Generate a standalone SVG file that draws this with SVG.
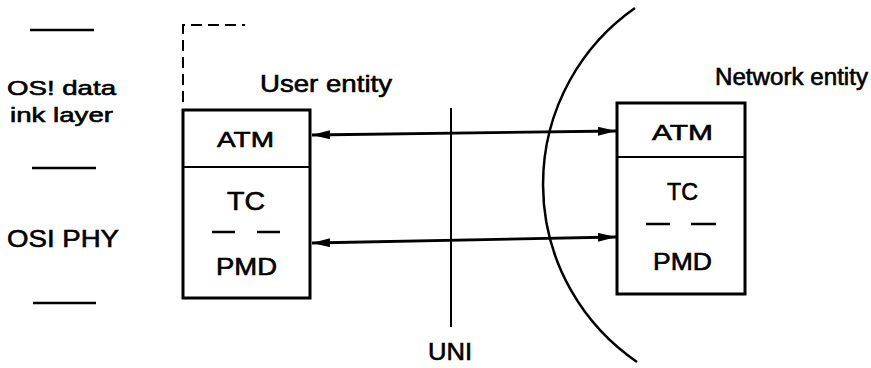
<svg xmlns="http://www.w3.org/2000/svg" width="871" height="368" viewBox="0 0 871 368">
<style>
text{font-family:"Liberation Sans",Arial,sans-serif;fill:#000;stroke:#000;stroke-width:0.6;}
.box{fill:none;stroke:#000;stroke-width:3;}
.ln{stroke:#000;stroke-width:2.5;fill:none;}
.thin{stroke:#000;stroke-width:2;fill:none;}
.arr{stroke:#000;stroke-width:2.8;fill:none;marker-start:url(#ah);marker-end:url(#ah);}
</style>
<defs>
<marker id="ah" viewBox="0 0 18 9" refX="18" refY="4.5" markerWidth="18" markerHeight="9" markerUnits="userSpaceOnUse" orient="auto-start-reverse">
<path d="M0,0 L18,4.5 L0,9 z" fill="#000"/>
</marker>
</defs>
<rect width="871" height="368" fill="#fff"/>
<g id="osi-labels">
<line class="ln" x1="30" y1="30" x2="94" y2="30"/>
<line class="ln" x1="32" y1="168" x2="96" y2="168"/>
<line class="ln" x1="33" y1="303" x2="96" y2="303"/>
<text x="7" y="95" font-size="21" textLength="109" lengthAdjust="spacingAndGlyphs">OS! data</text>
<text x="10" y="122" font-size="21" textLength="103" lengthAdjust="spacingAndGlyphs">ink layer</text>
<text x="7" y="247" font-size="24" textLength="112" lengthAdjust="spacingAndGlyphs">OSI PHY</text>
</g>
<g id="user-entity">
<path class="thin" d="M183,102 V25 H245" stroke-dasharray="11 6" stroke-width="2.6"/>
<text x="260" y="92" font-size="24" textLength="132" lengthAdjust="spacingAndGlyphs">User entity</text>
<rect class="box" x="183" y="110" width="127" height="188"/>
<line class="thin" x1="183" y1="167" x2="310" y2="167"/>
<text x="217" y="147" font-size="22" textLength="57" lengthAdjust="spacingAndGlyphs">ATM</text>
<text x="227" y="210" font-size="25" textLength="38" lengthAdjust="spacingAndGlyphs">TC</text>
<line class="ln" x1="212" y1="232" x2="235" y2="232"/>
<line class="ln" x1="257" y1="232" x2="280" y2="232"/>
<text x="216" y="275" font-size="23" textLength="61" lengthAdjust="spacingAndGlyphs">PMD</text>
</g>
<g id="network-entity">
<text x="715" y="85" font-size="23" textLength="153" lengthAdjust="spacingAndGlyphs">Network entity</text>
<rect class="box" x="617" y="103" width="128" height="191"/>
<line class="thin" x1="617" y1="157" x2="745" y2="157"/>
<text x="652" y="140" font-size="22" textLength="61" lengthAdjust="spacingAndGlyphs">ATM</text>
<text x="667" y="200" font-size="24" textLength="31" lengthAdjust="spacingAndGlyphs">TC</text>
<line class="ln" x1="646" y1="224" x2="670" y2="224"/>
<line class="ln" x1="691" y1="224" x2="716" y2="224"/>
<text x="653" y="270" font-size="23" textLength="59" lengthAdjust="spacingAndGlyphs">PMD</text>
</g>
<g id="uni">
<line class="thin" x1="451" y1="108" x2="451" y2="327"/>
<text x="428" y="360" font-size="24" textLength="44" lengthAdjust="spacingAndGlyphs">UNI</text>
</g>
<g id="network-boundary">
<path class="ln" d="M635,8 A215,215 0 0 0 637,362"/>
</g>
<g id="connectors">
<line class="arr" x1="312" y1="135" x2="616" y2="131"/>
<line class="arr" x1="312" y1="243" x2="616" y2="237"/>
</g>
</svg>
